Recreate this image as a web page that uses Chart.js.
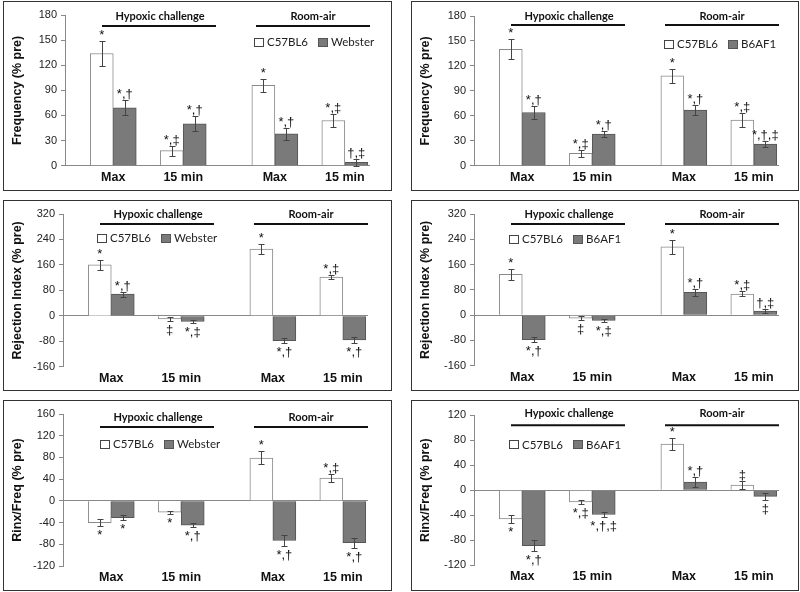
<!DOCTYPE html>
<html>
<head>
<meta charset="utf-8">
<script src="https://cdn.jsdelivr.net/npm/chart.js@4.4.1/dist/chart.umd.min.js"></script>
<style>
  html, body { margin: 0; padding: 0; background: #fff; }
  body { width: 800px; height: 592px; position: relative; overflow: hidden; }
  .panel { position: absolute; border: 1px solid #333; }
  .panel canvas { display: block; }
</style>
</head>
<body>
<div class="panel" id="p1"><canvas id="c1"></canvas></div>
<div class="panel" id="p2"><canvas id="c2"></canvas></div>
<div class="panel" id="p3"><canvas id="c3"></canvas></div>
<div class="panel" id="p4"><canvas id="c4"></canvas></div>
<div class="panel" id="p5"><canvas id="c5"></canvas></div>
<div class="panel" id="p6"><canvas id="c6"></canvas></div>
<script>
// categories and labels
const groupLabels = ['Max', '15 min', 'Max', '15 min'];
const headerTexts = ['Hypoxic challenge', 'Room-air'];
const strainRef = 'C57BL6';
const strainWeb = 'Webster';
const strainB6 = 'B6AF1';

// Frequency (% pre)
const freqC57w = [134, 18, 96, 54];
const freqC57wErr = [15, 6, 8, 8];
const freqWeb = [69, 50, 38, 4];
const freqWebErr = [9, 9, 7, 4];
const freqC57b = [140, 15, 108, 55];
const freqC57bErr = [12, 4, 8, 8];
const freqB6 = [64, 38, 67, 26];
const freqB6Err = [8, 4, 6, 4];

// Rejection Index (% pre)
const riC57w = [160, -10, 210, 122];
const riC57wErr = [16, 6, 15, 7];
const riWeb = [68, -18, -78, -76];
const riWebErr = [8, 5, 9, 8];
const riC57b = [129, -10, 216, 67];
const riC57bErr = [17, 6, 22, 8];
const riB6 = [-78, -17, 72, 13];
const riB6Err = [8, 4, 11, 5];

// Rinx/Freq (% pre)
const rfC57w = [-40, -21, 79, 42];
const rfC57wErr = [7, 3, 12, 7];
const rfWeb = [-31, -45, -73, -77];
const rfWebErr = [5, 4, 10, 9];
const rfC57b = [-46, -19, 74, 8];
const rfC57bErr = [6, 3, 10, 6];
const rfB6 = [-89, -39, 13, -10];
const rfB6Err = [9, 4, 8, 5];

// significance marks
const markFreqC57w = ['*', '*,‡', '*', '*,‡'];
const markFreqWeb = ['*,†', '*,†', '*,†', '†,‡'];
const markFreqC57b = ['*', '*,‡', '*', '*,‡'];
const markFreqB6 = ['*,†', '*,†', '*,†', '*,†,‡'];
const markRiC57w = ['*', '‡', '*', '*,‡'];
const markRiWeb = ['*,†', '*,‡', '*,†', '*,†'];
const markRiC57b = ['*', '‡', '*', '*,‡'];
const markRiB6 = ['*,†', '*,‡', '*,†', '†,‡'];
const markRfC57w = ['*', '*', '*', '*,‡'];
const markRfWeb = ['*', '*,†', '*,†', '*,†'];
const markRfC57b = ['*', '*,‡', '*', '‡'];
const markRfB6 = ['*,†', '*,†,‡', '*,†', '‡'];

// group centres on the linear x axis (gap between the two conditions)
const groupPos = [0.69, 1.69, 3.0, 4.0];

const whiteFill = '#ffffff', whiteLine = '#8a8a8a';
const greyFill = '#7a7a7a', greyLine = '#555555';

// draws error bars, significance marks, condition headers and legend
const annotate = {
  id: 'annotate',
  afterDatasetsDraw(chart, args, o) {
    const ctx = chart.ctx, a = chart.chartArea, ys = chart.scales.y;
    ctx.save();
    chart.data.datasets.forEach((ds, i) => {
      const meta = chart.getDatasetMeta(i);
      meta.data.forEach((bar, j) => {
        const v = ds.data[j].y, e = o.errors[i][j];
        const x = Math.round(bar.x) + 0.5;
        const yHi = Math.round(ys.getPixelForValue(v + e)) + 0.5;
        const yLo = Math.round(ys.getPixelForValue(v - e)) + 0.5;
        ctx.strokeStyle = '#444';
        ctx.lineWidth = 1;
        ctx.beginPath();
        ctx.moveTo(x, yHi); ctx.lineTo(x, yLo);
        ctx.moveTo(x - 3, yHi); ctx.lineTo(x + 3, yHi);
        ctx.moveTo(x - 3, yLo); ctx.lineTo(x + 3, yLo);
        ctx.stroke();
        ctx.fillStyle = '#111';
        ctx.font = '13px Arial';
        ctx.textAlign = 'center';
        if (v >= 0) {
          ctx.textBaseline = 'alphabetic';
          ctx.fillText(o.marks[i][j], bar.x, yHi - 3);
        } else {
          ctx.textBaseline = 'top';
          ctx.fillText(o.marks[i][j], bar.x, yLo + 2);
        }
      });
    });

    // condition headers with rules underneath
    const heads = [{cx: 95, x1: 37, x2: 151}, {cx: 248, x1: 191, x2: 305}];
    ctx.font = 'bold 11px Lato';
    ctx.textAlign = 'center';
    ctx.textBaseline = 'middle';
    ctx.fillStyle = '#111';
    ctx.strokeStyle = '#111';
    ctx.lineWidth = 2;
    heads.forEach((h, k) => {
      ctx.fillText(headerTexts[k], a.left + h.cx, a.top + o.headY);
      ctx.beginPath();
      ctx.moveTo(a.left + h.x1, a.top + o.lineY);
      ctx.lineTo(a.left + h.x2, a.top + o.lineY);
      ctx.stroke();
    });

    // legend
    let lx = a.left + o.legendX;
    const ly = a.top + o.legendY;
    ctx.font = '11.5px Lato';
    ctx.textAlign = 'left';
    ctx.lineWidth = 1;
    chart.data.datasets.forEach(ds => {
      ctx.fillStyle = ds.backgroundColor;
      ctx.fillRect(Math.round(lx) + 0.5, Math.round(ly - 4) + 0.5, 9, 8);
      ctx.strokeStyle = ds.borderColor === whiteLine ? '#444' : ds.borderColor;
      ctx.strokeRect(Math.round(lx) + 0.5, Math.round(ly - 4) + 0.5, 9, 8);
      ctx.fillStyle = '#222';
      ctx.fillText(ds.label, lx + 13, ly + 0.5);
      lx += 13 + ctx.measureText(ds.label).width + 10;
    });
    ctx.restore();
  }
};

function makePanel(p) {
  const div = document.getElementById('p' + p.n);
  const w = p.R - p.L - 1, h = p.B - p.T - 1;
  div.style.left = p.L + 'px';
  div.style.top = p.T + 'px';
  div.style.width = w + 'px';
  div.style.height = h + 'px';
  const cv = document.getElementById('c' + p.n);
  cv.width = w; cv.height = h;
  const ox = p.L + 1, oy = p.T + 1;
  const plotRight = p.axisX + 305;

  return new Chart(cv.getContext('2d'), {
    type: 'bar',
    data: {
      datasets: [
        {
          label: strainRef,
          data: p.a.map((v, i) => ({x: groupPos[i], y: v})),
          backgroundColor: whiteFill,
          borderColor: whiteLine,
          borderWidth: 1,
          barThickness: 23
        },
        {
          label: p.bName,
          data: p.b.map((v, i) => ({x: groupPos[i], y: v})),
          backgroundColor: greyFill,
          borderColor: greyLine,
          borderWidth: 1,
          barThickness: 23
        }
      ]
    },
    options: {
      responsive: false,
      animation: false,
      events: [],
      layout: {
        padding: {left: 0, top: p.top - oy, right: w - (plotRight - ox), bottom: 0}
      },
      scales: {
        x: {
          type: 'linear',
          min: 0,
          max: 4.36,
          offset: false,
          grid: {display: false, drawTicks: false},
          border: {display: false},
          afterBuildTicks: s => { s.ticks = groupPos.map(v => ({value: v})); },
          afterFit: s => { s.height = h - (p.bottom - oy); },
          ticks: {
            autoSkip: false,
            maxRotation: 0,
            padding: 4,
            color: '#111',
            font: {family: 'Arial', size: 12.5, weight: 'bold'},
            callback: (v, i) => groupLabels[i]
          }
        },
        y: {
          min: p.min,
          max: p.max,
          afterFit: s => { s.width = p.axisX - ox; },
          border: {display: true, color: '#888'},
          grid: {
            drawOnChartArea: true,
            color: c => (c.tick && c.tick.value === 0 ? '#888' : 'rgba(0,0,0,0)'),
            tickColor: '#888',
            tickLength: 4
          },
          ticks: {
            stepSize: p.step,
            padding: 4,
            color: '#222',
            font: {family: 'Arial', size: 11}
          },
          title: {
            display: true,
            text: p.title,
            color: '#111',
            padding: {top: 6, bottom: 0},
            font: {family: 'Arial', size: 12.5, weight: 'bold'}
          }
        }
      },
      plugins: {
        legend: {display: false},
        tooltip: {enabled: false},
        annotate: {
          errors: [p.aErr, p.bErr],
          marks: [p.aMark, p.bMark],
          headY: p.headY,
          lineY: p.lineY,
          legendX: p.legendX,
          legendY: p.legendY
        }
      }
    },
    plugins: [annotate]
  });
}

const freqTitle = 'Frequency (% pre)';
const riTitle = 'Rejection Index (% pre)';
const rfTitle = 'Rinx/Freq (% pre)';

makePanel({n: 1, L: 3, T: 1, R: 391, B: 190, axisX: 65, top: 15, bottom: 165.7,
  min: 0, max: 180, step: 30, title: freqTitle, bName: strainWeb,
  a: freqC57w, aErr: freqC57wErr, aMark: markFreqC57w,
  b: freqWeb, bErr: freqWebErr, bMark: markFreqWeb,
  headY: 1, lineY: 11, legendX: 189, legendY: 27});

makePanel({n: 2, L: 411, T: 1, R: 798, B: 190, axisX: 474, top: 16, bottom: 165.7,
  min: 0, max: 180, step: 30, title: freqTitle, bName: strainB6,
  a: freqC57b, aErr: freqC57bErr, aMark: markFreqC57b,
  b: freqB6, bErr: freqB6Err, bMark: markFreqB6,
  headY: 0, lineY: 9, legendX: 190, legendY: 28});

makePanel({n: 3, L: 3, T: 200, R: 391, B: 390, axisX: 63, top: 214, bottom: 366.7,
  min: -160, max: 320, step: 80, title: riTitle, bName: strainWeb,
  a: riC57w, aErr: riC57wErr, aMark: markRiC57w,
  b: riWeb, bErr: riWebErr, bMark: markRiWeb,
  headY: 0, lineY: 10, legendX: 34, legendY: 24});

makePanel({n: 4, L: 411, T: 200, R: 798, B: 390, axisX: 474, top: 214, bottom: 365.7,
  min: -160, max: 320, step: 80, title: riTitle, bName: strainB6,
  a: riC57b, aErr: riC57bErr, aMark: markRiC57b,
  b: riB6, bErr: riB6Err, bMark: markRiB6,
  headY: 0, lineY: 10, legendX: 35, legendY: 25});

makePanel({n: 5, L: 3, T: 400, R: 391, B: 590, axisX: 63, top: 414, bottom: 566,
  min: -120, max: 160, step: 40, title: rfTitle, bName: strainWeb,
  a: rfC57w, aErr: rfC57wErr, aMark: markRfC57w,
  b: rfWeb, bErr: rfWebErr, bMark: markRfWeb,
  headY: 3, lineY: 13, legendX: 37, legendY: 30});

makePanel({n: 6, L: 411, T: 400, R: 798, B: 590, axisX: 474, top: 415.3, bottom: 565,
  min: -120, max: 120, step: 40, title: rfTitle, bName: strainB6,
  a: rfC57b, aErr: rfC57bErr, aMark: markRfC57b,
  b: rfB6, bErr: rfB6Err, bMark: markRfB6,
  headY: -2, lineY: 10, legendX: 35, legendY: 29});
</script>
</body>
</html>
